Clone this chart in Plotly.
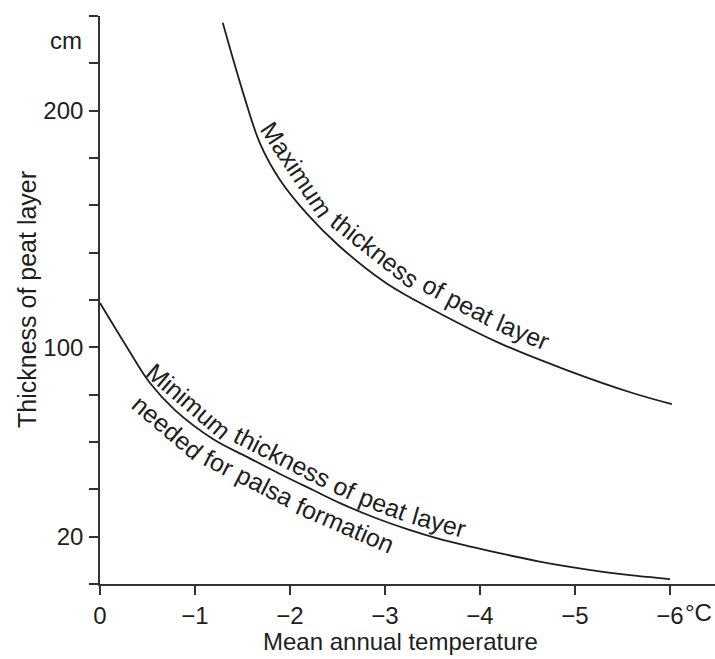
import numpy as np
import plotly.graph_objects as go

# ---------------- data ----------------
temp_max = [-1.292, -1.508, -1.684, -1.895, -2.175, -2.526, -3.018, -3.509,
            -4.211, -4.912, -5.614, -6.02]
thick_max = [237.1, 207.3, 186.2, 170.7, 156.6, 142.5, 127.0, 115.8,
             101.7, 90.4, 80.6, 76.0]

temp_min = [0.0, -0.295, -0.526, -0.789, -1.189, -1.547, -1.895, -2.242, -2.526,
            -2.874, -3.232, -3.579, -3.926, -4.242, -4.6, -4.947, -5.295, -5.653, -6.0]
thick_min = [118.7, 99.3, 84.9, 73.5, 61.3, 53.7, 46.5, 39.7, 34.2,
             28.3, 23.2, 19.0, 15.6, 12.7, 9.7, 7.2, 5.1, 3.4, 2.1]

x_tick_vals = [0, -1, -2, -3, -4, -5, -6]
x_tick_text = ["0", "\u22121", "\u22122", "\u22123", "\u22124", "\u22125", "\u22126"]
y_tick_vals = [0, 20, 40, 60, 80, 100, 120, 140, 160, 180, 200, 220, 240]
y_tick_text = ["", "20", "", "", "", "100", "", "", "", "", "200", "", ""]

label_max = "Maximum thickness of peat layer"
label_min_1 = "Minimum thickness of peat layer"
label_min_2 = "needed for palsa formation"

# ---------------- layout constants ----------------
W, H = 715, 659
ML, MR, MT, MB = 100, 0, 16, 75
PX_PER_DEG = 95.0
YMAX = 240.0
PLOT_W = W - ML - MR
PLOT_H = H - MT - MB
SX = PX_PER_DEG
SY = PLOT_H / YMAX
XMIN = -PLOT_W / SX

FONT = "Liberation Sans, Arial, Helvetica, sans-serif"
INK = "#1e1e1e"


def to_px(x, y):
    return ML + (0 - np.asarray(x)) * SX, MT + (YMAX - np.asarray(y)) * SY


def to_data(px, py):
    return -(px - ML) / SX, YMAX - (py - MT) / SY


def px_to_paper(px, py):
    return (px - ML) / PLOT_W, (H - MB - py) / PLOT_H


# Arial / Helvetica advance widths (per 1000 em)
CW = {"M": 833, "a": 556, "x": 500, "i": 222, "m": 833, "u": 556, "t": 278,
      "h": 556, "c": 500, "k": 500, "n": 556, "e": 556, "s": 500, "o": 556,
      "f": 278, "p": 556, "l": 222, "y": 500, "r": 333, "d": 556, " ": 278}


def text_w(s, size):
    return sum(CW.get(c, 556) for c in s) * size / 1000.0


def catmull(px, py, n=30):
    P = np.column_stack([px, py])
    P = np.vstack([2 * P[0] - P[1], P, 2 * P[-1] - P[-2]])
    out = []
    for i in range(1, len(P) - 2):
        p0, p1, p2, p3 = P[i - 1], P[i], P[i + 1], P[i + 2]
        for t in np.linspace(0, 1, n, endpoint=False):
            t2, t3 = t * t, t * t * t
            out.append(0.5 * ((2 * p1) + (-p0 + p2) * t +
                              (2 * p0 - 5 * p1 + 4 * p2 - p3) * t2 +
                              (-p0 + 3 * p1 - 3 * p2 + p3) * t3))
    out.append(P[-2])
    return np.array(out)


def curve_words(xs, ys, text, start_x, offset, size):
    px, py = to_px(xs, ys)
    C = catmull(px, py)
    d = np.gradient(C, axis=0)
    d /= np.linalg.norm(d, axis=1)[:, None]
    nrm = np.column_stack([d[:, 1], -d[:, 0]])
    O = C + offset * nrm
    seg = np.linalg.norm(np.diff(O, axis=0), axis=1)
    s = np.concatenate([[0], np.cumsum(seg)])
    spx, _ = to_px(start_x, 0)
    i0 = int(np.argmin(np.abs(C[:, 0] - spx)))
    pos = s[i0]
    anns = []
    for word in text.split(" "):
        w = text_w(word, size)
        sc = pos + w / 2
        cx = np.interp(sc, s, O[:, 0])
        cy = np.interp(sc, s, O[:, 1])
        tx = np.interp(sc, s, d[:, 0])
        ty = np.interp(sc, s, d[:, 1])
        ang = np.degrees(np.arctan2(ty, tx))
        dx, dy = to_data(cx, cy)
        anns.append(dict(x=float(dx), y=float(dy), xref="x", yref="y", text=word,
                         showarrow=False, xanchor="center", yanchor="middle",
                         textangle=float(ang),
                         font=dict(family=FONT, size=size, color=INK)))
        pos += w + text_w(" ", size)
    return anns


fig = go.Figure()
fig.add_trace(go.Scatter(x=temp_max, y=thick_max, mode="lines",
                         line=dict(color=INK, width=1.8, shape="spline", smoothing=1.0),
                         name=label_max, hoverinfo="skip", cliponaxis=True))
fig.add_trace(go.Scatter(x=temp_min, y=thick_min, mode="lines",
                         line=dict(color=INK, width=1.8, shape="spline", smoothing=1.0),
                         name=label_min_1, hoverinfo="skip", cliponaxis=True))

anns = []
LS = 25
anns += curve_words(temp_max, thick_max, label_max, -1.62, 20, LS)
anns += curve_words(temp_min, thick_min, label_min_1, -0.44, 16, LS)
anns += curve_words(temp_min, thick_min, label_min_2, -0.55, -18, LS)

AX = 24
# unit labels and axis titles
x, y = px_to_paper(84, 40)
anns.append(dict(x=x, y=y, xref="paper", yref="paper", text="cm", showarrow=False,
                 xanchor="right", yanchor="middle", font=dict(family=FONT, size=AX, color=INK)))
x, y = px_to_paper(683, 612)
anns.append(dict(x=x, y=y, xref="paper", yref="paper", text="\u00b0C", showarrow=False,
                 xanchor="left", yanchor="middle", font=dict(family=FONT, size=AX, color=INK)))
x, y = px_to_paper(400, 641)
anns.append(dict(x=x, y=y, xref="paper", yref="paper", text="Mean annual temperature",
                 showarrow=False, xanchor="center", yanchor="middle",
                 font=dict(family=FONT, size=AX, color=INK)))
x, y = px_to_paper(27, 300)
anns.append(dict(x=x, y=y, xref="paper", yref="paper", text="Thickness of peat layer",
                 showarrow=False, xanchor="center", yanchor="middle", textangle=-90,
                 font=dict(family=FONT, size=25, color=INK)))

axis_common = dict(showline=True, linecolor="#333333", linewidth=1.6, ticks="outside",
                   ticklen=9, tickwidth=1.6, tickcolor="#333333", showgrid=False,
                   zeroline=False, automargin=False,
                   tickfont=dict(family=FONT, size=AX, color=INK))

fig.update_layout(
    width=W, height=H,
    margin=dict(l=ML, r=MR, t=MT, b=MB, pad=0, autoexpand=False),
    paper_bgcolor="white", plot_bgcolor="white",
    showlegend=False,
    xaxis=dict(range=[0, XMIN], tickmode="array", tickvals=x_tick_vals,
               ticktext=x_tick_text, ticklabelstandoff=0, **axis_common),
    yaxis=dict(range=[0, YMAX], tickmode="array", tickvals=y_tick_vals,
               ticktext=y_tick_text, ticklabelstandoff=1, **axis_common),
    annotations=anns,
)

fig.write_html("out.html", config={"displayModeBar": False},
               post_script="document.body.style.margin='0';document.body.style.overflow='hidden';")
